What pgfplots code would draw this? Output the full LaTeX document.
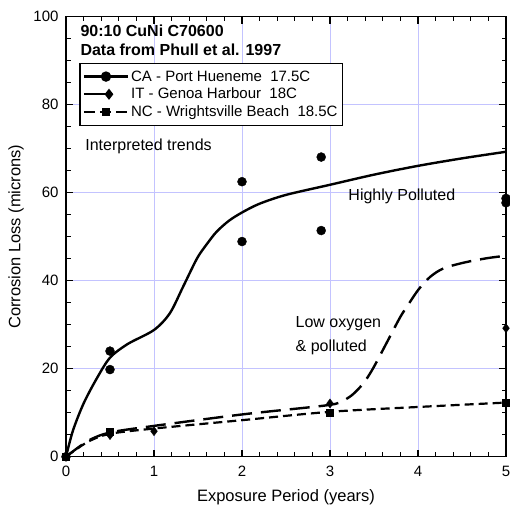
\documentclass[border=0pt]{standalone}
\usepackage{pgfplots}
\pgfplotsset{compat=1.18}
\usepackage{fontspec}
\setmainfont{Liberation Sans}
\definecolor{gridblue}{RGB}{195,195,255}
\begin{document}
\begin{tikzpicture}
\path[use as bounding box] (-66pt,-53.3pt) rectangle (444pt,456.7pt);
\begin{axis}[
 scale only axis, width=440pt, height=440pt,
 xmin=0, xmax=5, ymin=0, ymax=100,
 xtick={0,1,2,3,4,5}, ytick={0,20,40,60,80,100},
 minor x tick num=4, minor y tick num=3,
 grid=major, major grid style={gridblue, line width=0.7pt},
 axis line style={line width=1.6pt},
 every tick/.style={black, line width=1.3pt},
 major tick length=7pt, minor tick length=4.5pt,
 tick align=inside,
 clip mode=individual,
 ticklabel style={font=\fontsize{15}{18}\selectfont},
 /pgf/number format/assume math mode=true,
 xticklabel style={yshift=-6pt},
 yticklabel style={xshift=-4pt},
 xlabel={Exposure Period (years)},
 ylabel={Corrosion Loss (microns)},
 every axis x label/.style={at={(axis description cs:0.5,-0.091)}, anchor=center, font=\fontsize{16.5}{20}\selectfont},
 every axis y label/.style={at={(axis description cs:-0.1136,0.5)}, rotate=90, anchor=center, font=\fontsize{16.5}{20}\selectfont},
 legend style={at={(0.03,0.895)}, anchor=north west, draw=black, line width=1.4pt, fill=white,
   font=\fontsize{15}{18}\selectfont, inner xsep=3pt, inner ysep=5pt, row sep=1.5pt},
 legend cell align=left,
]
% trend curves
\addplot[forget plot, line width=2.4pt, smooth, tension=0.5] coordinates {
 (0,0) (0.08,6) (0.2,12.1) (0.35,17.8) (0.5,22.5) (0.7,25.6) (1.0,28.8) (1.18,32.6)
 (1.33,38.6) (1.49,45.1) (1.6,48.3) (1.71,51.1) (1.85,53.6) (2.0,55.5) (2.2,57.5) (2.5,59.5)
 (3.0,61.8) (3.5,64.1) (4.0,66.1) (4.5,67.8) (5.0,69.3)};
\addplot[forget plot, line width=2.4pt, smooth, tension=0.5, dash pattern=on 20pt off 9pt] coordinates {
 (0,0) (0.25,3.6) (0.5,5.5) (1,7.0) (2,9.6) (2.8,11.3) (3.0,11.8) (3.11,12.3) (3.25,14.0) (3.38,16.7) (3.49,20.1)
 (3.66,26.5) (3.80,31.8) (3.91,35.2) (4.01,38.1) (4.14,40.9) (4.29,42.8) (4.52,44.1) (4.78,45.1) (4.97,45.6)};
\addplot[forget plot, line width=2.2pt, smooth, tension=0.5, dash pattern=on 9pt off 5pt] coordinates {
 (0,0) (0.25,3.4) (0.5,5.2) (1,6.4) (2,8.3) (3,10.2) (4,11.3) (5,12.3)};
% data
\addplot[only marks, mark=*, mark size=4.5pt, black,
 legend image code/.code={\draw[line width=2.2pt] (0pt,0pt)--(44pt,0pt); \fill (22pt,0pt) circle (4.5pt);}]
 coordinates {(0,0) (0.5,24) (0.5,19.8) (2,62.5) (2,48.9) (2.9,68.1) (2.9,51.4) (5,58.7) (5,57.7)};
\addlegendentry{CA - Port Hueneme\ \ 17.5C}
\addplot[only marks, mark=diamond*, mark size=4.5pt, black,
 legend image code/.code={\draw[line width=2.2pt] (0pt,0pt)--(25pt,0pt); \fill (25pt,0pt) +(-3.5pt,0pt)--+(0pt,4.5pt)--+(3.5pt,0pt)--+(0pt,-4.5pt)--cycle; \path (44pt,0pt);}]
 coordinates {(0,0) (0.5,4.9) (1,5.8) (3,12.1) (5,29.2)};
\addlegendentry{IT - Genoa Harbour\ \ 18C}
\addplot[only marks, mark=square*, mark size=3.5pt, black,
 legend image code/.code={\draw[line width=2.2pt, dash pattern=on 11pt off 5pt] (0pt,0pt)--(44pt,0pt); \fill (22pt,0pt) +(-3.5pt,-3.5pt) rectangle +(3.5pt,3.5pt);}]
 coordinates {(0,0) (0.5,5.7) (3,10.1) (5,12.3)};
\addlegendentry{NC - Wrightsville Beach\ \ 18.5C}
% annotations
\node[anchor=west, font=\bfseries\fontsize{16}{19}\selectfont] at (axis cs:0.125,96.8) {90:10 CuNi C70600};
\node[anchor=west, font=\bfseries\fontsize{16}{19}\selectfont] at (axis cs:0.125,92.4) {Data from Phull et al. 1997};
\node[anchor=west, font=\fontsize{16}{19}\selectfont] at (axis cs:0.18,70.6) {Interpreted trends};
\node[anchor=west, font=\fontsize{16}{19}\selectfont] at (axis cs:3.17,59.2) {Highly Polluted};
\node[anchor=west, font=\fontsize{16}{19}\selectfont] at (axis cs:2.57,30.2) {Low oxygen};
\node[anchor=west, font=\fontsize{16}{19}\selectfont] at (axis cs:2.57,24.9) {\& polluted};
\end{axis}
\end{tikzpicture}
\end{document}
